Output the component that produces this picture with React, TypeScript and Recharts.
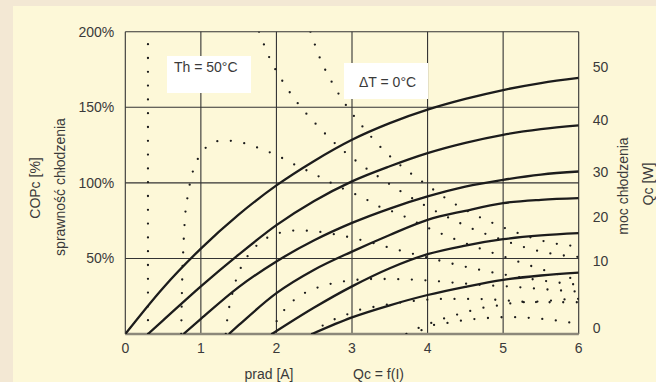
import React from 'react';
import { LineChart, Line, XAxis, YAxis, CartesianGrid, ReferenceLine } from 'recharts';

type Pt = [number, number];

// axis ticks
const xTicks = [0, 1, 2, 3, 4, 5, 6];
const copTicks = [0, 50, 100, 150, 200];
// right axis labels sit on the COP scale (the Qc scale of the original is not linear)
const qcTickPos = [3.8, 48.3, 77.7, 107.1, 141.3, 176.4];
const qcTickLabels = ['0', '10', '20', '30', '40', '50'];

// Qc = f(I), solid curves (read in % units of the left axis)
const qc0: Pt[] = [[0, 0], [0.5, 30.5], [1, 56.5], [1.5, 79], [2, 98.3], [2.5, 114.5], [3, 128.5], [3.5, 139.5], [4, 148.4], [4.5, 155.5], [5, 161.4], [5.5, 166], [6, 169.4]];
const qc10: Pt[] = [[0.3, 0], [0.5, 9], [1, 31.5], [1.5, 52.5], [2, 72], [2.5, 88], [3, 101], [3.5, 111], [4, 119.7], [4.5, 126.5], [5, 131.8], [5.5, 135.5], [6, 138]];
const qc20: Pt[] = [[0.77, 0], [1, 10], [1.5, 31], [2, 48], [2.5, 62], [3, 73.5], [3.5, 83], [4, 91], [4.5, 97.5], [5, 102], [5.5, 105.5], [6, 107.5]];
const qc30: Pt[] = [[1.37, 0], [1.5, 5.8], [2, 27], [2.5, 42.5], [3, 54.5], [3.5, 65.5], [4, 75.5], [4.5, 81.5], [5, 86.6], [5.5, 88.8], [6, 89.9]];
const qc40: Pt[] = [[1.94, 0], [2.5, 17.5], [3, 31.5], [3.5, 43.5], [4, 52.8], [4.5, 58.5], [5, 62.7], [5.5, 65.2], [6, 66.7]];
const qc50: Pt[] = [[2.47, 0], [3, 11], [3.5, 19], [4, 25.8], [4.5, 31.2], [5, 35.8], [5.5, 38.7], [6, 40.6]];

// COPc, dotted curves
const cop0: Pt[] = [[2.45, 200], [2.58, 182], [2.74, 166], [2.94, 150], [3.16, 136], [3.41, 122], [3.68, 110], [3.98, 99], [4.28, 88.5], [4.6, 79.5], [4.93, 72], [5.27, 65.5], [5.62, 60.5], [6, 58]];
const cop10Rise: Pt[] = [[0.3, 0], [0.3, 195]];
const cop10: Pt[] = [[1.77, 200], [1.91, 182.5], [2.09, 166.5], [2.3, 151.5], [2.54, 138], [2.8, 125], [3.08, 113.5], [3.38, 103], [3.69, 93], [4.02, 83.5], [4.34, 75.5], [4.67, 68], [4.84, 65], [5.18, 59], [5.36, 56.3], [5.72, 52.5], [6, 51]];
const cop20: Pt[] = [[0.74, 0], [0.746, 19], [0.754, 37.5], [0.767, 55.5], [0.786, 74], [0.8, 83], [0.83, 92], [0.86, 101], [0.91, 110], [0.99, 118.5], [1.11, 125], [1.28, 128], [1.47, 127.5], [1.65, 125], [1.82, 122], [1.99, 118.5], [2.15, 114.5], [2.32, 110], [2.48, 106.5], [2.64, 102], [2.81, 98], [2.97, 94], [3.14, 90.5], [3.29, 86], [3.64, 79], [3.97, 71], [4.3, 64], [4.64, 57.5], [4.99, 51.5], [5.34, 45.5], [5.69, 40], [6, 35.5]];
const cop30: Pt[] = [[1.33, 0], [1.35, 10], [1.38, 19], [1.42, 27.5], [1.47, 36.5], [1.54, 45], [1.64, 53], [1.76, 59.5], [1.91, 64.5], [2.09, 67.5], [2.27, 68.5], [2.45, 68.2], [2.81, 65.6], [3.17, 61.6], [3.52, 56.8], [3.88, 52.1], [4.23, 47.7], [4.59, 43.5], [4.95, 39.9], [5.34, 36.6], [5.7, 34.2], [6, 32.5]];
const cop40: Pt[] = [[1.94, 0], [2.01, 9.3], [2.12, 16.8], [2.25, 23.2], [2.4, 27.8], [2.58, 31.3], [2.75, 33.6], [2.93, 35.1], [3.3, 36.4], [3.66, 36.2], [4.03, 35.3], [4.39, 33.8], [4.75, 32.3], [5.12, 31.3], [5.49, 29.8], [5.85, 28.5], [6, 28]];
const cop50: Pt[] = [[2.47, 0], [2.63, 6.2], [2.8, 10.4], [2.96, 13.4], [3.13, 16.4], [3.31, 18.1], [3.49, 19.7], [3.86, 22.1], [4.22, 23.2], [4.59, 23.2], [4.95, 22.5], [5.32, 21.2], [5.68, 21], [6, 21]];
const cop60: Pt[] = [[3.72, 0], [3.9, 4.4], [4.07, 7.7], [4.25, 10.8], [4.43, 13.4], [4.6, 15.7], [4.77, 17.7], [4.95, 19], [5.13, 20.5], [5.5, 21.6], [5.86, 23], [6, 23.3]];
const cop70: Pt[] = [[3.92, 2.5], [4.07, 5.8], [4.26, 7.3], [4.44, 8.8], [4.62, 9.9], [4.8, 10.6], [4.99, 11.1], [5.17, 11.1], [5.36, 10.6], [5.54, 9.9], [5.72, 8.8], [5.9, 7.5], [6, 6.8]];

const solidCurves = [qc0, qc10, qc20, qc30, qc40, qc50];
const dottedCurves = [cop0, cop10, cop20, cop30, cop40, cop50, cop60, cop70];

const toRows = (pts: Pt[]) => pts.map(([x, y]) => ({ x, y }));

const FONT = '"Liberation Sans", Arial, sans-serif';
const INK = '#3a3a3a';
const tickStyle = { fill: INK, fontSize: 14, fontFamily: FONT };

export default function App() {
  return (
    <div style={{ position: 'absolute', left: 0, top: 0, width: 656, height: 382, overflow: 'hidden', background: '#f3e8d4' }}>
      <div style={{ position: 'absolute', left: 13, top: 6, right: 0, bottom: 0, background: '#fdf8d8' }} />
      <div style={{ position: 'absolute', left: 0, top: 0 }}>
        <LineChart width={656} height={382} margin={{ top: 31.7, right: 17.3, bottom: 18, left: 65.3 }}>
          <CartesianGrid stroke="#333" strokeWidth={1.1} />
          <XAxis
            type="number"
            dataKey="x"
            domain={[0, 6]}
            ticks={xTicks}
            height={30}
            axisLine={false}
            tickLine={false}
            tickSize={0}
            tickMargin={9}
            tick={tickStyle}
            allowDataOverflow
          />
          <YAxis
            type="number"
            domain={[0, 200]}
            ticks={copTicks}
            width={60}
            axisLine={false}
            tickLine={false}
            tickSize={0}
            tickMargin={11}
            tick={tickStyle}
            tickFormatter={(v: number) => (v === 0 ? '' : `${v}%`)}
            allowDataOverflow
          />
          <YAxis
            yAxisId="right"
            orientation="right"
            type="number"
            domain={[0, 200]}
            ticks={qcTickPos}
            interval={0}
            width={60}
            axisLine={false}
            tickLine={false}
            tickSize={0}
            tickMargin={14}
            tick={{ ...tickStyle, textAnchor: 'start' }}
            tickFormatter={(v: number, i: number) => qcTickLabels[i] ?? ''}
            allowDataOverflow
          />
          <ReferenceLine y={0} stroke="#8c887a" strokeWidth={2.6} />
          <Line
            yAxisId="right"
            data={toRows(cop10Rise)}
            dataKey="y"
            type="linear"
            stroke="#1c1c1c"
            strokeWidth={2.3}
            strokeLinecap="round"
            strokeDasharray="0 13.8"
            dot={false}
            activeDot={false}
            isAnimationActive={false}
          />
          {dottedCurves.map((pts, i) => (
            <Line
              key={`cop${i}`}
              data={toRows(pts)}
              dataKey="y"
              type="monotone"
              stroke="#1c1c1c"
              strokeWidth={2.3}
              strokeLinecap="round"
              strokeDasharray="0 13.6"
              dot={false}
              activeDot={false}
              isAnimationActive={false}
            />
          ))}
          {solidCurves.map((pts, i) => (
            <Line
              key={`qc${i}`}
              data={toRows(pts)}
              dataKey="y"
              type="monotone"
              stroke="#1c1c1c"
              strokeWidth={2.3}
              dot={false}
              activeDot={false}
              isAnimationActive={false}
            />
          ))}
        </LineChart>
      </div>

      <svg width={656} height={382} style={{ position: 'absolute', left: 0, top: 0, pointerEvents: 'none' }}>
        <g fontFamily={FONT} fontSize={14} fill={INK}>
          <text x={35} y={188} transform="rotate(-90 35 188)" textAnchor="middle" dominantBaseline="central">COPc [%]</text>
          <text x={60} y={187} transform="rotate(-90 60 187)" textAnchor="middle" dominantBaseline="central">sprawność chłodzenia</text>
          <text x={623} y={186} transform="rotate(-90 623 186)" textAnchor="middle" dominantBaseline="central">moc chłodzenia</text>
          <text x={648} y={184} transform="rotate(-90 648 184)" textAnchor="middle" dominantBaseline="central">Qc [W]</text>
          <text x={269} y={379} textAnchor="middle">prad [A]</text>
          <text x={353} y={379}>Qc = f(I)</text>
        </g>
      </svg>

      <div style={{ position: 'absolute', left: 167, top: 56, width: 84, height: 37, background: '#fff' }}>
        <div style={{ position: 'absolute', left: 7, top: 3, fontFamily: FONT, fontSize: 14, color: INK, whiteSpace: 'nowrap' }}>Th = 50°C</div>
      </div>
      <div style={{ position: 'absolute', left: 344, top: 63, width: 84, height: 36, background: '#fff' }}>
        <div style={{ position: 'absolute', left: 15, top: 11, fontFamily: FONT, fontSize: 14, color: INK, whiteSpace: 'nowrap' }}>ΔT = 0°C</div>
      </div>
    </div>
  );
}
